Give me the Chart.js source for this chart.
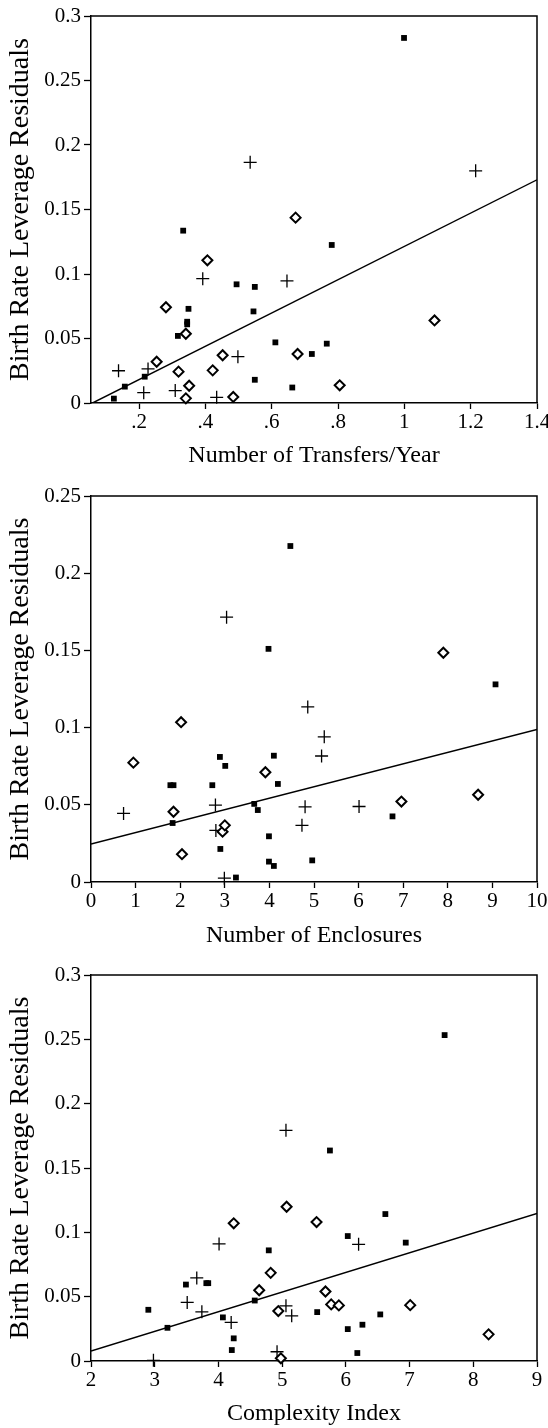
<!DOCTYPE html>
<html>
<head>
<meta charset="utf-8">
<script src="https://cdn.jsdelivr.net/npm/chart.js@4.4.0/dist/chart.umd.min.js"></script>
<style>
  html, body { margin: 0; padding: 0; background: #fff; }
  .panel { position: absolute; left: 0; width: 548px; }
</style>
</head>
<body>
<div class="panel" style="top:0px"><canvas id="transfers" width="548" height="470"></canvas></div>
<div class="panel" style="top:480px"><canvas id="enclosures" width="548" height="470"></canvas></div>
<div class="panel" style="top:958px"><canvas id="complexity" width="548" height="470"></canvas></div>
<script>
// ---- panel 1 : transfers per year ----
var sqX1 = [0.124, 0.157, 0.217, 0.317, 0.333, 0.345, 0.345, 0.349, 0.494, 0.545, 0.549, 0.549, 0.611, 0.662, 0.721, 0.766, 0.781, 0.999];
var sqY1 = [0.0034, 0.0127, 0.0204, 0.052, 0.1336, 0.063, 0.061, 0.073, 0.092, 0.071, 0.090, 0.018, 0.047, 0.012, 0.038, 0.046, 0.1225, 0.283];
var dmX1 = [0.253, 0.281, 0.319, 0.341, 0.341, 0.351, 0.406, 0.422, 0.452, 0.484, 0.672, 0.678, 0.805, 1.091];
var dmY1 = [0.032, 0.0742, 0.0243, 0.0537, 0.0036, 0.0134, 0.1106, 0.0253, 0.037, 0.0047, 0.1437, 0.038, 0.0137, 0.064];
var plX1 = [0.138, 0.214, 0.227, 0.309, 0.392, 0.434, 0.498, 0.535, 0.646, 1.215];
var plY1 = [0.025, 0.008, 0.0264, 0.0096, 0.0964, 0.0044, 0.0359, 0.1866, 0.0946, 0.180];
var fitX1 = [0.0597, 1.4];
var fitY1 = [0, 0.173];
var xTicks1 = [0.2, 0.4, 0.6, 0.8, 1, 1.2, 1.4];
var xLabels1 = ['.2', '.4', '.6', '.8', '1', '1.2', '1.4'];
var yTicks1 = [0, 0.05, 0.1, 0.15, 0.2, 0.25, 0.3];
var yLabels1 = ['0', '0.05', '0.1', '0.15', '0.2', '0.25', '0.3'];

// ---- panel 2 : enclosures ----
var sqX2 = [1.78, 1.85, 1.83, 2.72, 2.89, 2.90, 3.01, 3.25, 3.66, 3.74, 3.98, 3.99, 3.99, 4.10, 4.10, 4.19, 4.47, 4.96, 6.76, 9.07];
var sqY2 = [0.0627, 0.0627, 0.0382, 0.0627, 0.081, 0.0214, 0.0752, 0.0029, 0.0506, 0.0466, 0.151, 0.0296, 0.0132, 0.0818, 0.0104, 0.0635, 0.2176, 0.014, 0.0425, 0.128];
var dmX2 = [0.95, 1.85, 2.02, 2.04, 2.95, 3.0, 3.91, 6.96, 7.90, 8.68];
var dmY2 = [0.0773, 0.0455, 0.1035, 0.018, 0.0326, 0.0367, 0.0711, 0.0521, 0.1485, 0.0565];
var plX2 = [0.73, 2.79, 2.80, 2.99, 3.04, 4.73, 4.80, 4.86, 5.17, 5.23, 6.01];
var plY2 = [0.0444, 0.0498, 0.0334, 0.0025, 0.1715, 0.0367, 0.0487, 0.1134, 0.0816, 0.094, 0.0489];
var fitX2 = [0, 10];
var fitY2 = [0.0246, 0.0988];
var xTicks2 = [0, 1, 2, 3, 4, 5, 6, 7, 8, 9, 10];
var xLabels2 = ['0', '1', '2', '3', '4', '5', '6', '7', '8', '9', '10'];
var yTicks2 = [0, 0.05, 0.1, 0.15, 0.2, 0.25];
var yLabels2 = ['0', '0.05', '0.1', '0.15', '0.2', '0.25'];

// ---- panel 3 : complexity index ----
var sqX3 = [2.90, 3.20, 3.49, 3.81, 3.84, 4.07, 4.21, 4.24, 4.57, 4.79, 5.55, 5.75, 6.03, 6.03, 6.18, 6.26, 6.54, 6.62, 6.94, 7.55];
var sqY3 = [0.0398, 0.0258, 0.0594, 0.0605, 0.0605, 0.0339, 0.0085, 0.0176, 0.047, 0.086, 0.038, 0.1636, 0.0971, 0.0248, 0.0062, 0.0282, 0.0362, 0.1142, 0.092, 0.2533];
var dmX3 = [4.24, 4.64, 4.82, 4.94, 4.98, 5.07, 5.54, 5.68, 5.77, 5.89, 7.01, 8.24];
var dmY3 = [0.107, 0.055, 0.0685, 0.0388, 0.0021, 0.1199, 0.108, 0.054, 0.044, 0.0432, 0.0434, 0.0207];
var plX3 = [2.98, 3.51, 3.66, 3.74, 4.01, 4.20, 4.92, 5.06, 5.06, 5.15, 6.20];
var plY3 = [0.0005, 0.0455, 0.0646, 0.0382, 0.0910, 0.030, 0.0072, 0.0429, 0.1793, 0.0351, 0.0907];
var fitX3 = [2, 9];
var fitY3 = [0.0078, 0.1147];
var xTicks3 = [2, 3, 4, 5, 6, 7, 8, 9];
var xLabels3 = ['2', '3', '4', '5', '6', '7', '8', '9'];
var yTicks3 = [0, 0.05, 0.1, 0.15, 0.2, 0.25, 0.3];
var yLabels3 = ['0', '0.05', '0.1', '0.15', '0.2', '0.25', '0.3'];

var yTitle = 'Birth Rate Leverage Residuals';

function pts(xs, ys) {
    var out = [];
    for (var i = 0; i < xs.length; i++) {
        out.push({ x: xs[i], y: ys[i] });
    }
    return out;
}

// closes the frame on top and right (no ticks there)
var boxPlugin = {
    id: 'box',
    afterDraw: function (chart) {
        var a = chart.chartArea;
        var ctx = chart.ctx;
        ctx.save();
        ctx.strokeStyle = '#000';
        ctx.lineWidth = 1.5;
        ctx.beginPath();
        ctx.moveTo(a.left, a.top);
        ctx.lineTo(a.right, a.top);
        ctx.lineTo(a.right, a.bottom);
        ctx.stroke();
        ctx.restore();
    }
};

function makeChart(id, p) {
    var ctx = document.getElementById(id);
    var serif = 'Liberation Serif';
    return new Chart(ctx, {
        type: 'scatter',
        plugins: [boxPlugin],
        data: {
            datasets: [{
                data: pts(p.sqX, p.sqY),
                pointStyle: 'rect',
                pointRadius: 4.1,
                backgroundColor: '#000',
                borderColor: '#000',
                borderWidth: 0,
                clip: false
            }, {
                data: pts(p.dmX, p.dmY),
                pointStyle: 'rectRot',
                pointRadius: 5,
                backgroundColor: '#fff',
                borderColor: '#000',
                borderWidth: 2,
                clip: false
            }, {
                data: pts(p.plX, p.plY),
                pointStyle: 'cross',
                pointRadius: 6.5,
                borderColor: '#000',
                borderWidth: 1.3,
                clip: false
            }, {
                // regression line
                type: 'line',
                data: pts(p.fitX, p.fitY),
                showLine: true,
                pointRadius: 0,
                borderColor: '#000',
                borderWidth: 1.4,
                fill: false
            }]
        },
        options: {
            responsive: false,
            animation: false,
            devicePixelRatio: 1,
            layout: { padding: { top: p.padTop, right: 11, left: 0, bottom: 0 } },
            plugins: {
                legend: { display: false },
                tooltip: { enabled: false }
            },
            scales: {
                x: {
                    type: 'linear',
                    min: p.xMin,
                    max: p.xMax,
                    afterBuildTicks: function (scale) {
                        scale.ticks = p.xTicks.map(function (v) { return { value: v }; });
                    },
                    afterFit: function (scale) {
                        scale.height = p.xAxisH;
                        // don't let the last label squeeze the plot
                        scale.paddingLeft = 0;
                        scale.paddingRight = 0;
                    },
                    ticks: {
                        color: '#000',
                        font: { family: serif, size: 21 },
                        padding: 1,
                        maxRotation: 0,
                        autoSkip: false,
                        callback: function (v) {
                            var i = p.xTicks.indexOf(v);
                            return i >= 0 ? p.xLabels[i] : '';
                        }
                    },
                    grid: {
                        display: true,
                        drawOnChartArea: false,
                        drawTicks: true,
                        tickLength: 6,
                        tickColor: '#000',
                        tickWidth: 1.3
                    },
                    border: { display: true, color: '#000', width: 1.5 },
                    title: {
                        display: true,
                        text: p.xTitle,
                        color: '#000',
                        font: { family: serif, size: 24 },
                        padding: { top: 0, bottom: 0 }
                    }
                },
                y: {
                    type: 'linear',
                    min: p.yMin,
                    max: p.yMax,
                    afterBuildTicks: function (scale) {
                        scale.ticks = p.yTicks.map(function (v) { return { value: v }; });
                    },
                    afterFit: function (scale) {
                        scale.width = 91;
                        scale.paddingTop = 0;
                        scale.paddingBottom = 0;
                    },
                    ticks: {
                        color: '#000',
                        font: { family: serif, size: 21 },
                        padding: 3,
                        autoSkip: false,
                        callback: function (v) {
                            var i = p.yTicks.indexOf(v);
                            return i >= 0 ? p.yLabels[i] : '';
                        }
                    },
                    grid: {
                        display: true,
                        drawOnChartArea: false,
                        drawTicks: true,
                        tickLength: 7,
                        tickColor: '#000',
                        tickWidth: 1.3
                    },
                    border: { display: true, color: '#000', width: 1.5 },
                    title: {
                        display: true,
                        text: yTitle,
                        color: '#000',
                        font: { family: serif, size: 28 },
                        padding: { top: 4, bottom: 0 }
                    }
                }
            }
        }
    });
}

makeChart('transfers', {
    sqX: sqX1, sqY: sqY1, dmX: dmX1, dmY: dmY1, plX: plX1, plY: plY1,
    fitX: fitX1, fitY: fitY1,
    xMin: 0.055, xMax: 1.4, yMin: 0, yMax: 0.3,
    xTicks: xTicks1, xLabels: xLabels1, yTicks: yTicks1, yLabels: yLabels1,
    xTitle: 'Number of Transfers/Year',
    padTop: 16, xAxisH: 67
});

makeChart('enclosures', {
    sqX: sqX2, sqY: sqY2, dmX: dmX2, dmY: dmY2, plX: plX2, plY: plY2,
    fitX: fitX2, fitY: fitY2,
    xMin: 0, xMax: 10, yMin: 0, yMax: 0.25,
    xTicks: xTicks2, xLabels: xLabels2, yTicks: yTicks2, yLabels: yLabels2,
    xTitle: 'Number of Enclosures',
    padTop: 16, xAxisH: 68
});

makeChart('complexity', {
    sqX: sqX3, sqY: sqY3, dmX: dmX3, dmY: dmY3, plX: plX3, plY: plY3,
    fitX: fitX3, fitY: fitY3,
    xMin: 2, xMax: 9, yMin: 0, yMax: 0.3,
    xTicks: xTicks3, xLabels: xLabels3, yTicks: yTicks3, yLabels: yLabels3,
    xTitle: 'Complexity Index',
    padTop: 17, xAxisH: 67
});
</script>
</body>
</html>
